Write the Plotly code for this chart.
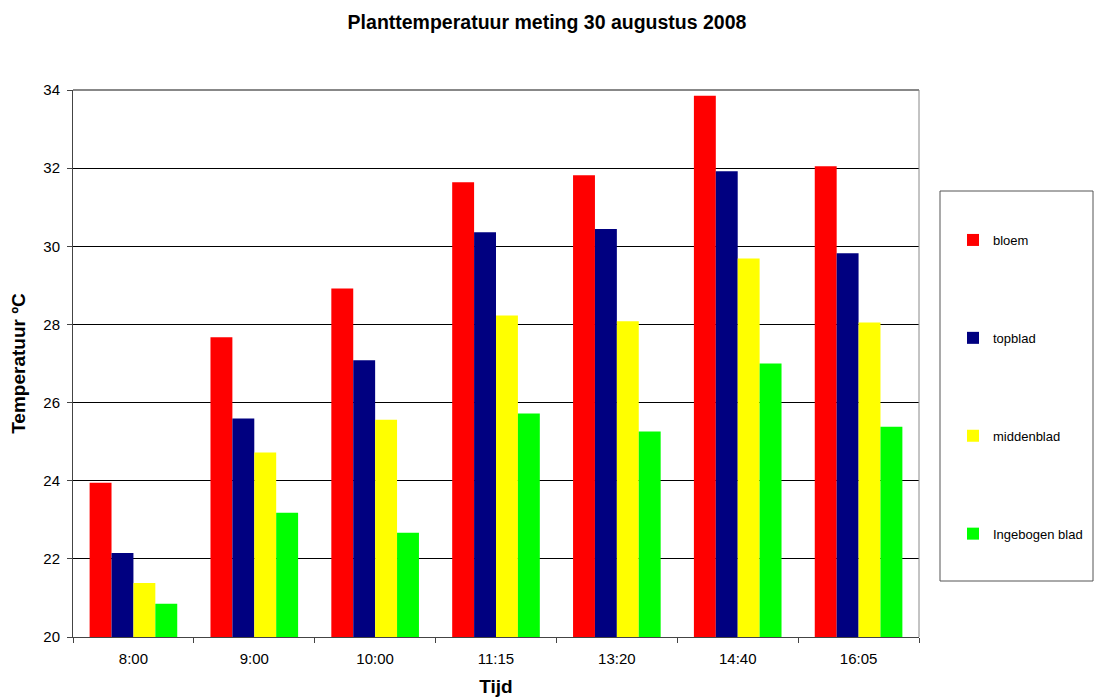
import plotly.graph_objects as go

times = ["8:00", "9:00", "10:00", "11:15", "13:20", "14:40", "16:05"]
bloem = [23.95, 27.67, 28.92, 31.64, 31.82, 33.85, 32.05]
topblad = [22.15, 25.59, 27.08, 30.36, 30.44, 31.92, 29.82]
middenblad = [21.38, 24.72, 25.56, 28.23, 28.08, 29.69, 28.05]
ingebogen = [20.85, 23.18, 22.67, 25.72, 25.26, 27.00, 25.38]

series = [
    ("bloem", bloem, "#FF0000"),
    ("topblad", topblad, "#000080"),
    ("middenblad", middenblad, "#FFFF00"),
    ("Ingebogen blad", ingebogen, "#00FF00"),
]

fig = go.Figure()
for i, (name, vals, col) in enumerate(series):
    fig.add_trace(go.Bar(x=times, y=vals, name=name, marker_color=col,
                         marker_line_width=0, legendgroup=f"g{i}"))

FONT = "Liberation Sans, Arial, sans-serif"
L, R, T, B = 73, 175, 90, 60
PW = 1094 - L - R
PH = 697 - T - B

def px_x(p):
    return (p - L) / PW

def px_y(p):
    return (697 - B - p) / PH

fig.update_layout(
    width=1094, height=697,
    paper_bgcolor="white", plot_bgcolor="white",
    font=dict(family=FONT, size=15, color="black"),
    margin=dict(l=L, r=R, t=T, b=B, autoexpand=False),
    barmode="group", bargap=0.275, bargroupgap=0,
    title=dict(text="<b>Planttemperatuur meting 30 augustus 2008</b>",
               x=0.5, xanchor="center", y=1 - 22 / 697, yanchor="middle",
               font=dict(size=19.5, family=FONT)),
    xaxis=dict(title=dict(text="<b>Tijd</b>", font=dict(size=19), standoff=15),
               showline=True, linecolor="#444444", linewidth=1,
               ticks="outside", ticklen=5, tickcolor="#444444",
               tickson="boundaries", showgrid=False,
               ticklabelstandoff=8,
               tickfont=dict(size=15)),
    yaxis=dict(title=dict(text="<b>Temperatuur ºC</b>", font=dict(size=19), standoff=12),
               range=[20, 34], dtick=2, tick0=20,
               showline=True, linecolor="#444444", linewidth=1,
               ticks="outside", ticklen=5, tickcolor="#444444",
               ticklabelstandoff=4,
               showgrid=True, gridcolor="black", gridwidth=1,
               zeroline=False, tickfont=dict(size=15)),
    legend=dict(x=px_x(953), xanchor="left", y=px_y(225), yanchor="top",
                bgcolor="rgba(0,0,0,0)", borderwidth=0,
                tracegroupgap=78, font=dict(size=13, family=FONT),
                itemwidth=30),
    shapes=[
        dict(type="line", xref="paper", yref="paper",
             x0=0, x1=1, y0=1, y1=1,
             line=dict(color="#888888", width=2)),
        dict(type="line", xref="paper", yref="paper",
             x0=1, x1=1, y0=0, y1=1,
             line=dict(color="#888888", width=1)),
        dict(type="rect", xref="paper", yref="paper",
             x0=px_x(940), x1=px_x(1093),
             y0=px_y(581), y1=px_y(191),
             line=dict(color="#555555", width=1)),
    ],
)
fig.write_html("out.html")
